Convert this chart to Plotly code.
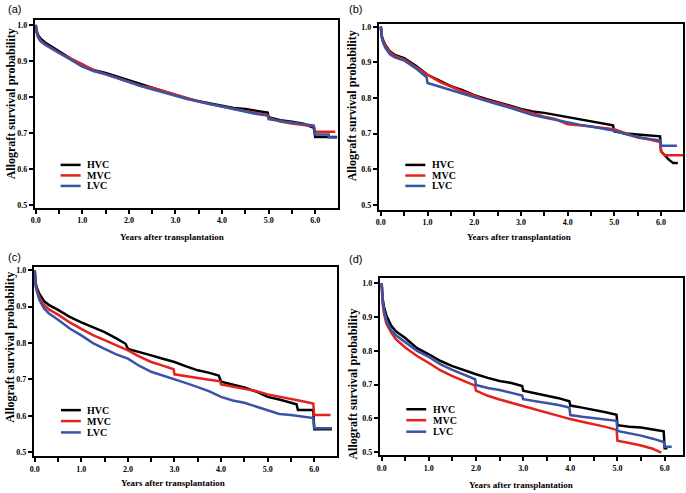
import plotly.graph_objects as go

W, H = 686, 493

# ---------------- data ----------------
series_names = ["HVC", "MVC", "LVC"]
panel_labels = ["(a)", "(b)", "(c)", "(d)"]
x_title = "Years after transplantation"
y_title = "Allograft survival probability"

x_tick_vals = [0, 0.5, 1, 1.5, 2, 2.5, 3, 3.5, 4, 4.5, 5, 5.5, 6, 6.5]
x_tick_text = ["0.0", "", "1.0", "", "2.0", "", "3.0", "", "4.0", "", "5.0", "", "6.0", ""]
y_tick_vals = [0.5, 0.6, 0.7, 0.8, 0.9, 1.0]
y_tick_text = ["0.5", "0.6", "0.7", "0.8", "0.9", "1.0"]

# Panel (a)
a_hvc_t = [0, 0.02, 0.05, 0.1, 0.2, 0.3, 0.5, 0.75, 1.0, 1.25, 1.5, 1.75, 2.0, 2.25, 2.5, 2.75, 3.0, 3.25, 3.5, 3.75, 4.0, 4.25, 4.5, 4.75, 4.98, 5.0, 5.25, 5.5, 5.75, 5.97, 6.0, 6.47]
a_hvc_s = [1.0, 0.983, 0.972, 0.962, 0.951, 0.943, 0.925, 0.906, 0.888, 0.874, 0.866, 0.856, 0.845, 0.835, 0.826, 0.815, 0.804, 0.795, 0.788, 0.781, 0.774, 0.769, 0.766, 0.761, 0.756, 0.743, 0.735, 0.731, 0.725, 0.714, 0.688, 0.688]
a_mvc_t = [0, 0.02, 0.05, 0.1, 0.2, 0.3, 0.5, 0.75, 1.0, 1.25, 1.5, 1.75, 2.0, 2.25, 2.5, 2.75, 3.0, 3.25, 3.5, 3.75, 4.0, 4.25, 4.5, 4.75, 4.98, 5.0, 5.25, 5.5, 5.75, 5.97, 6.0, 6.43]
a_mvc_s = [1.0, 0.98, 0.968, 0.957, 0.946, 0.938, 0.922, 0.906, 0.891, 0.873, 0.862, 0.853, 0.841, 0.831, 0.825, 0.815, 0.805, 0.796, 0.787, 0.779, 0.773, 0.766, 0.762, 0.755, 0.749, 0.742, 0.731, 0.726, 0.722, 0.718, 0.703, 0.703]
a_lvc_t = [0, 0.02, 0.05, 0.1, 0.2, 0.3, 0.5, 0.75, 1.0, 1.25, 1.5, 1.75, 2.0, 2.25, 2.5, 2.75, 3.0, 3.25, 3.5, 3.75, 4.0, 4.25, 4.5, 4.75, 4.98, 5.0, 5.25, 5.5, 5.75, 5.97, 6.0, 6.29, 6.29, 6.47]
a_lvc_s = [1.0, 0.978, 0.965, 0.955, 0.945, 0.937, 0.921, 0.903, 0.884, 0.871, 0.863, 0.853, 0.841, 0.830, 0.821, 0.811, 0.801, 0.794, 0.787, 0.780, 0.771, 0.765, 0.759, 0.752, 0.748, 0.738, 0.733, 0.729, 0.724, 0.720, 0.695, 0.695, 0.687, 0.687]

# Panel (b)
b_hvc_t = [0, 0.02, 0.05, 0.1, 0.2, 0.3, 0.5, 0.75, 1.0, 1.25, 1.5, 1.75, 2.0, 2.25, 2.5, 2.75, 3.0, 3.25, 3.5, 3.75, 4.0, 4.25, 4.5, 4.75, 4.97, 5.0, 5.25, 5.5, 5.75, 5.98, 6.0, 6.08, 6.17, 6.26, 6.36]
b_hvc_s = [1.0, 0.975, 0.962, 0.948, 0.93, 0.921, 0.912, 0.89, 0.865, 0.848, 0.833, 0.822, 0.808, 0.797, 0.789, 0.779, 0.769, 0.762, 0.758, 0.752, 0.747, 0.74, 0.734, 0.728, 0.723, 0.706, 0.70, 0.697, 0.694, 0.692, 0.65, 0.638, 0.626, 0.617, 0.617]
b_mvc_t = [0, 0.02, 0.05, 0.1, 0.2, 0.3, 0.5, 0.75, 1.0, 1.25, 1.5, 1.75, 2.0, 2.25, 2.5, 2.75, 3.0, 3.25, 3.5, 3.75, 4.0, 4.25, 4.5, 4.75, 5.0, 5.25, 5.5, 5.75, 5.98, 6.0, 6.08, 6.47]
b_mvc_s = [1.0, 0.972, 0.958, 0.945, 0.928, 0.918, 0.908, 0.886, 0.865, 0.846, 0.831, 0.818, 0.806, 0.794, 0.786, 0.776, 0.768, 0.757, 0.747, 0.74, 0.726, 0.723, 0.72, 0.716, 0.712, 0.70, 0.689, 0.683, 0.676, 0.65, 0.639, 0.639]
b_lvc_t = [0, 0.02, 0.05, 0.1, 0.2, 0.3, 0.5, 0.75, 0.98, 1.0, 1.25, 1.5, 1.75, 2.0, 2.25, 2.5, 2.75, 3.0, 3.25, 3.5, 3.75, 4.0, 4.25, 4.5, 4.75, 5.0, 5.25, 5.5, 5.75, 5.98, 6.0, 6.34]
b_lvc_s = [1.0, 0.97, 0.955, 0.94, 0.922, 0.914, 0.905, 0.883, 0.858, 0.842, 0.832, 0.822, 0.812, 0.80, 0.79, 0.782, 0.773, 0.763, 0.752, 0.745, 0.738, 0.733, 0.725, 0.72, 0.714, 0.708, 0.698, 0.69, 0.685, 0.681, 0.666, 0.666]

# Panel (c)
c_hvc_t = [0, 0.02, 0.05, 0.1, 0.2, 0.3, 0.5, 0.75, 1.0, 1.25, 1.5, 1.75, 1.95, 2.0, 2.25, 2.5, 2.75, 3.0, 3.25, 3.5, 3.75, 3.95, 4.0, 4.25, 4.5, 4.75, 5.0, 5.25, 5.5, 5.62, 5.65, 5.98, 6.0, 6.38]
c_hvc_s = [1.0, 0.965, 0.95, 0.935, 0.915, 0.905, 0.891, 0.872, 0.857, 0.843, 0.830, 0.813, 0.798, 0.784, 0.774, 0.766, 0.757, 0.748, 0.736, 0.725, 0.718, 0.711, 0.694, 0.686, 0.678, 0.667, 0.652, 0.645, 0.636, 0.632, 0.616, 0.616, 0.563, 0.563]
c_mvc_t = [0, 0.02, 0.05, 0.1, 0.2, 0.3, 0.5, 0.75, 1.0, 1.25, 1.5, 1.75, 2.0, 2.25, 2.5, 2.75, 2.98, 3.0, 3.25, 3.5, 3.75, 3.98, 4.0, 4.25, 4.5, 4.75, 5.0, 5.25, 5.5, 5.75, 5.98, 6.0, 6.35]
c_mvc_s = [1.0, 0.96, 0.945, 0.925, 0.905, 0.893, 0.878, 0.857, 0.839, 0.822, 0.808, 0.795, 0.780, 0.763, 0.748, 0.738, 0.728, 0.714, 0.708, 0.704, 0.699, 0.695, 0.686, 0.680, 0.676, 0.668, 0.659, 0.652, 0.647, 0.640, 0.634, 0.602, 0.602]
c_lvc_t = [0, 0.02, 0.05, 0.1, 0.2, 0.3, 0.5, 0.75, 1.0, 1.25, 1.5, 1.75, 2.0, 2.25, 2.5, 2.75, 3.0, 3.25, 3.5, 3.75, 4.0, 4.25, 4.5, 4.75, 5.0, 5.25, 5.5, 5.75, 5.98, 6.0, 6.38]
c_lvc_s = [1.0, 0.955, 0.94, 0.918, 0.895, 0.882, 0.864, 0.84, 0.821, 0.80, 0.784, 0.769, 0.757, 0.737, 0.721, 0.711, 0.702, 0.69, 0.679, 0.667, 0.652, 0.642, 0.636, 0.625, 0.614, 0.605, 0.602, 0.597, 0.594, 0.566, 0.566]

# Panel (d)
d_hvc_t = [0, 0.02, 0.05, 0.1, 0.2, 0.3, 0.5, 0.75, 1.0, 1.25, 1.5, 1.75, 2.0, 2.25, 2.5, 2.75, 2.98, 3.0, 3.25, 3.5, 3.75, 3.98, 4.0, 4.25, 4.5, 4.75, 4.98, 5.0, 5.25, 5.5, 5.75, 5.98, 6.0, 6.06]
d_hvc_s = [1.0, 0.955, 0.93, 0.905, 0.875, 0.858, 0.838, 0.808, 0.79, 0.77, 0.755, 0.742, 0.731, 0.72, 0.711, 0.705, 0.696, 0.682, 0.675, 0.668, 0.66, 0.651, 0.638, 0.632, 0.624, 0.618, 0.611, 0.58, 0.575, 0.573, 0.567, 0.562, 0.512, 0.512]
d_mvc_t = [0, 0.02, 0.05, 0.1, 0.2, 0.3, 0.5, 0.75, 1.0, 1.25, 1.5, 1.75, 1.98, 2.0, 2.25, 2.5, 2.75, 3.0, 3.25, 3.5, 3.75, 4.0, 4.25, 4.5, 4.75, 4.98, 5.0, 5.25, 5.5, 5.75, 5.93]
d_mvc_s = [1.0, 0.94, 0.91, 0.88, 0.855, 0.835, 0.81, 0.785, 0.764, 0.742, 0.725, 0.71, 0.697, 0.682, 0.667, 0.656, 0.646, 0.637, 0.626, 0.616, 0.607, 0.598, 0.59, 0.583, 0.575, 0.566, 0.534, 0.527, 0.52, 0.51, 0.499]
d_lvc_t = [0, 0.02, 0.05, 0.1, 0.2, 0.3, 0.5, 0.75, 1.0, 1.25, 1.5, 1.75, 1.98, 2.0, 2.25, 2.5, 2.75, 2.98, 3.0, 3.25, 3.5, 3.75, 3.98, 4.0, 4.25, 4.5, 4.75, 4.98, 5.0, 5.25, 5.5, 5.75, 5.98, 6.0, 6.15]
d_lvc_s = [1.0, 0.95, 0.92, 0.89, 0.862, 0.846, 0.826, 0.8, 0.782, 0.76, 0.744, 0.73, 0.716, 0.699, 0.69, 0.684, 0.676, 0.668, 0.657, 0.652, 0.647, 0.64, 0.632, 0.61, 0.605, 0.601, 0.597, 0.593, 0.563, 0.557, 0.549, 0.54, 0.53, 0.516, 0.516]

panel_data = [
    [(a_hvc_t, a_hvc_s), (a_mvc_t, a_mvc_s), (a_lvc_t, a_lvc_s)],
    [(b_hvc_t, b_hvc_s), (b_mvc_t, b_mvc_s), (b_lvc_t, b_lvc_s)],
    [(c_hvc_t, c_hvc_s), (c_mvc_t, c_mvc_s), (c_lvc_t, c_lvc_s)],
    [(d_hvc_t, d_hvc_s), (d_mvc_t, d_mvc_s), (d_lvc_t, d_lvc_s)],
]

# ---------------- styling / layout ----------------
colors = ["#000000", "#e3221c", "#3a53a4"]
SERIF = "Liberation Serif, Times New Roman, serif"
SANS = "Liberation Sans, Arial, sans-serif"

# pixel boxes: left, top, right, bottom
boxes = [(31, 19, 336, 208), (377, 23, 683, 210), (30, 268, 335, 458), (378, 279, 683, 457)]
xranges = [[-0.02, 6.49], [-0.043, 6.47], [-0.02, 6.49], [-0.04, 6.39]]
yranges = [[0.4917, 1.0138], [0.486, 1.008], [0.489, 1.008], [0.491, 1.015]]
# legend geometry in domain fractions: line x0, x1, text x, row ys
legend_geo = [
    (0.085, 0.151, 0.167, [0.228, 0.172, 0.116]),
    (0.087, 0.153, 0.167, [0.241, 0.184, 0.128]),
    (0.0895, 0.155, 0.169, [0.244, 0.186, 0.126]),
    (0.0875, 0.153, 0.168, [0.26, 0.198, 0.133]),
]
# title positions in pixels
xtitle_pos = [(169, 237), (518, 237), (170, 485), (520, 487)]
ytitle_pos = [(7, 103), (350, 105), (6, 348), (351, 385)]
plabel_pos = [(2, 8), (345, 8), (2, 258), (345, 260)]

fig = go.Figure()
layout = dict(
    width=W, height=H, margin=dict(l=0, r=0, t=0, b=0),
    paper_bgcolor="white", plot_bgcolor="white", showlegend=False,
)
shapes, annotations = [], []

for i in range(4):
    sfx = "" if i == 0 else str(i + 1)
    xa, ya = "x" + sfx, "y" + sfx
    l, t, r, b = boxes[i]
    layout["xaxis" + sfx] = dict(
        domain=[l / W, r / W], range=xranges[i], anchor=ya,
        tickmode="array", tickvals=x_tick_vals, ticktext=x_tick_text,
        ticks="outside", ticklen=4, tickwidth=1.5, tickcolor="black",
        showline=True, linecolor="black", linewidth=2, mirror=True,
        showgrid=False, zeroline=False,
        tickfont=dict(family=SERIF, size=8, color="black", weight="bold"),
    )
    layout["yaxis" + sfx] = dict(
        domain=[1 - b / H, 1 - t / H], range=yranges[i], anchor=xa,
        tickmode="array", tickvals=y_tick_vals, ticktext=y_tick_text,
        ticks="outside", ticklen=4, tickwidth=1.5, tickcolor="black",
        showline=True, linecolor="black", linewidth=2, mirror=True,
        showgrid=False, zeroline=False,
        tickfont=dict(family=SERIF, size=8, color="black", weight="bold"),
    )
    for k, (tt, ss) in enumerate(panel_data[i]):
        fig.add_trace(go.Scatter(
            x=tt, y=ss, mode="lines", name=series_names[k],
            line=dict(color=colors[k], width=2.5),
            xaxis=xa, yaxis=ya, showlegend=False,
        ))
    lx0, lx1, ltx, rows = legend_geo[i]
    for k in range(3):
        shapes.append(dict(
            type="line", xref=xa + " domain", yref=ya + " domain",
            x0=lx0, x1=lx1, y0=rows[k], y1=rows[k],
            line=dict(color=colors[k], width=2.5),
        ))
        annotations.append(dict(
            xref=xa + " domain", yref=ya + " domain", x=ltx, y=rows[k],
            text="<b>" + series_names[k] + "</b>", showarrow=False,
            xanchor="left", yanchor="middle",
            font=dict(family=SERIF, size=10, color="black"),
        ))
    xt, yt = xtitle_pos[i]
    annotations.append(dict(
        xref="paper", yref="paper", x=xt / W, y=1 - yt / H,
        text="<b>" + x_title + "</b>", showarrow=False,
        xanchor="center", yanchor="middle",
        font=dict(family=SERIF, size=9, color="black"),
    ))
    yx, yy = ytitle_pos[i]
    annotations.append(dict(
        xref="paper", yref="paper", x=yx / W, y=1 - yy / H,
        text="<b>" + y_title + "</b>", showarrow=False, textangle=-90,
        xanchor="center", yanchor="middle",
        font=dict(family=SERIF, size=12, color="black"),
    ))
    px_, py_ = plabel_pos[i]
    annotations.append(dict(
        xref="paper", yref="paper", x=px_ / W, y=1 - py_ / H,
        text=panel_labels[i], showarrow=False,
        xanchor="left", yanchor="middle",
        font=dict(family=SANS, size=11, color="black"),
    ))

layout["shapes"] = shapes
layout["annotations"] = annotations
fig.update_layout(**layout)
fig.write_html(
    "out.html",
    config={"displayModeBar": False},
    post_script="document.body.style.margin='0px';document.body.style.padding='0px';",
)
